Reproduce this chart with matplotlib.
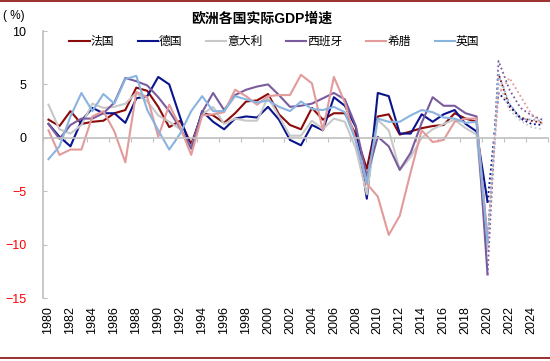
import numpy as np
import matplotlib.pyplot as plt
from matplotlib.lines import Line2D

plt.rcParams['font.family'] = ['Liberation Sans', 'Noto Sans CJK SC']

# 历史数据 1980-2020
years = list(range(1980, 2021))
france = [1.7, 1.1, 2.5, 1.3, 1.5, 1.6, 2.3, 2.6, 4.7, 4.4,
          2.9, 1.0, 1.6, -0.6, 2.3, 2.1, 1.4, 2.3, 3.4, 3.5,
          4.1, 2.2, 1.2, 0.8, 2.8, 1.7, 2.3, 2.3, 0.3, -2.9,
          2.0, 2.2, 0.3, 0.6, 0.9, 1.1, 1.2, 2.3, 1.8, 1.5, -9.8]
germany = [1.3, 0.1, -0.8, 1.6, 2.8, 2.3, 2.3, 1.4, 3.7, 3.9,
           5.7, 5.0, 1.9, -1.0, 2.5, 1.5, 0.8, 1.8, 2.0, 1.9,
           2.9, 1.7, -0.2, -0.7, 1.2, 0.7, 3.8, 3.0, 1.0, -5.7,
           4.2, 3.9, 0.4, 0.4, 2.2, 1.5, 2.2, 2.6, 1.3, 0.6, -6.0]
italy = [3.1, 0.8, 0.4, 1.2, 3.2, 2.8, 2.9, 3.2, 4.2, 3.4,
         2.1, 1.5, 0.8, -0.9, 2.2, 2.9, 1.3, 1.8, 1.6, 1.6,
         3.8, 2.0, 0.2, 0.2, 1.6, 0.8, 1.8, 1.5, -1.0, -5.3,
         1.7, 0.7, -3.0, -1.8, 0.0, 0.8, 1.3, 1.7, 0.9, 0.3, -10.6]
spain = [1.3, -0.1, 1.2, 1.8, 1.8, 2.3, 3.3, 5.6, 5.3, 4.9,
         3.8, 2.5, 0.9, -1.0, 2.4, 4.2, 2.6, 4.0, 4.5, 4.8,
         5.0, 4.0, 2.9, 3.0, 3.2, 3.7, 4.2, 3.6, 1.1, -3.6,
         0.1, -0.8, -3.0, -1.4, 1.4, 3.8, 3.0, 3.0, 2.3, 2.0, -12.8]
greece = [0.7, -1.6, -1.1, -1.1, 2.0, 2.5, 0.6, -2.3, 4.3, 3.8,
          0.1, 3.1, 1.0, -1.6, 2.1, 2.2, 2.4, 4.5, 3.9, 3.1,
          3.9, 4.0, 4.0, 5.9, 5.1, 0.7, 5.7, 3.3, -0.3, -4.3,
          -5.5, -9.1, -7.3, -3.2, 0.7, -0.4, -0.2, 1.5, 1.8, 1.8, -9.5]
uk = [-2.0, -0.8, 2.0, 4.2, 2.5, 4.1, 3.2, 5.5, 5.8, 2.6,
      0.7, -1.1, 0.4, 2.5, 3.9, 2.5, 2.5, 3.9, 3.6, 3.3,
      3.5, 2.9, 2.5, 3.4, 2.7, 2.6, 2.9, 2.4, -0.3, -4.2,
      1.8, 1.5, 1.5, 2.1, 2.6, 2.4, 1.9, 1.8, 1.4, 1.5, -9.8]

# 预测 2020-2025
f_years = list(range(2020, 2026))
france_f = [-9.8, 6.0, 2.9, 1.9, 1.6, 1.4]
germany_f = [-6.0, 4.2, 3.1, 1.8, 1.3, 1.2]
italy_f = [-10.6, 5.2, 2.6, 1.6, 1.0, 0.8]
spain_f = [-12.8, 7.2, 4.5, 2.8, 2.1, 1.7]
greece_f = [-9.5, 4.1, 5.6, 3.9, 2.2, 1.3]
uk_f = [-9.8, 5.9, 3.2, 1.8, 1.7, 1.6]

names = ['法国', '德国', '意大利', '西班牙', '希腊', '英国']
colors = ['#8B0A0A', '#0A148C', '#C8C8C8', '#7A5C9E', '#E39A9A', '#8AB4E0']
hist = [france, germany, italy, spain, greece, uk]
fcst = [france_f, germany_f, italy_f, spain_f, greece_f, uk_f]

fig = plt.figure(figsize=(5.5, 3.61), dpi=100)
ax = fig.add_axes([0.0782, 0.1745, 0.918, 0.7396])

handles = []
for name, c, h, f in zip(names, colors, hist, fcst):
    ln, = ax.plot(years, h, color=c, lw=1.5, label=name)
    ax.plot(f_years, f, color=c, lw=1.3, linestyle=(0, (1, 1.5)))
    handles.append(ln)

ax.set_xlim(1979.5, 2025.5)
ax.set_ylim(-15, 10)
ax.set_yticks([10, 5, 0, -5, -10, -15])
ax.tick_params(axis='y', direction='in', length=3, color='#BFBFBF',
               labelsize=9, pad=12)
for lab, v in zip(ax.get_yticklabels(), [10, 5, 0, -5, -10, -15]):
    lab.set_color('red' if v < 0 else 'black')

for s in ['top', 'right']:
    ax.spines[s].set_visible(False)
ax.spines['left'].set_color('#BFBFBF')
ax.spines['left'].set_linewidth(1.2)
ax.spines['bottom'].set_position(('data', 0))
ax.spines['bottom'].set_color('#BFBFBF')
ax.spines['bottom'].set_linewidth(1.2)
ax.set_xticks(np.arange(1979.5, 2026, 2))
ax.tick_params(axis='x', direction='out', length=3, color='#BFBFBF',
               labelbottom=False)

sec = ax.secondary_xaxis(0.0)
sec.set_xticks(range(1980, 2026, 2))
sec.set_xticklabels([str(y) for y in range(1980, 2026, 2)], rotation=90, fontsize=9)
sec.tick_params(length=0, pad=6)
sec.spines['bottom'].set_visible(False)

ax.legend(handles=handles, ncol=6, loc='center',
          bbox_to_anchor=(274.5 / 550, 1 - 42 / 361), bbox_transform=fig.transFigure,
          frameon=False, fontsize=8.5, handlelength=1.7, handletextpad=0.1,
          columnspacing=2.0)

fig.text(262 / 550, 1 - 19 / 361, '欧洲各国实际GDP增速', ha='center', va='center',
         fontsize=10, fontweight='bold')
fig.text(3 / 550, 1 - 16 / 361, '( %)', ha='left', va='center', fontsize=8.5)

fig.add_artist(Line2D([0, 1], [0.996, 0.996], color='#8B0A0A', lw=1.2,
                      transform=fig.transFigure))
fig.add_artist(Line2D([0, 1], [0.008, 0.008], color='#8B0A0A', lw=1.2,
                      transform=fig.transFigure))

fig.savefig('out.png', dpi=100)
